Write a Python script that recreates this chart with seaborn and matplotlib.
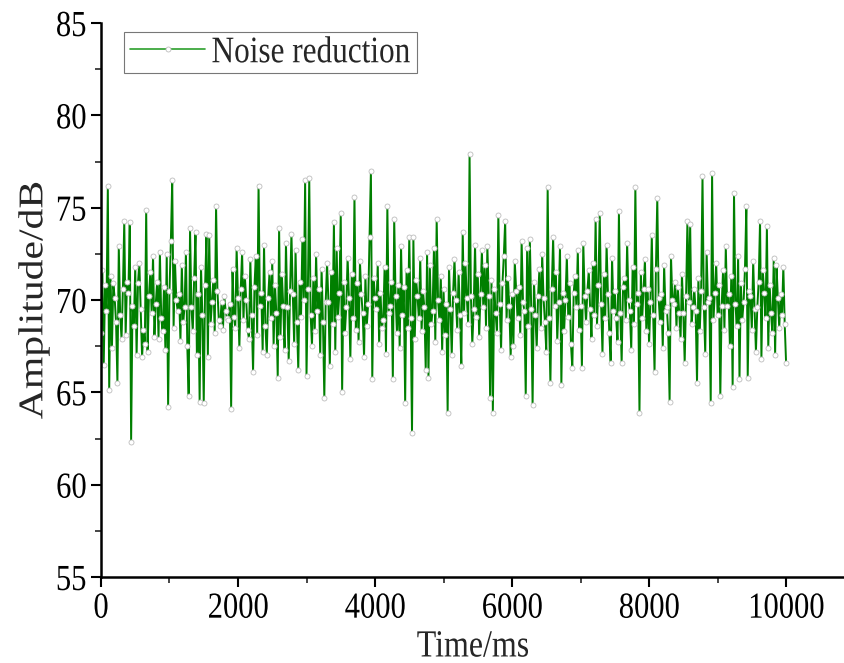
import numpy as np
import pandas as pd
import matplotlib
matplotlib.use("Agg")
import matplotlib.pyplot as plt
from matplotlib.ticker import MultipleLocator
from matplotlib.patheffects import AbstractPathEffect
from matplotlib.transforms import Affine2D
import seaborn as sns

# sampling step of the recorded signal (ms)
step_ms = 20

amplitude_db = [
    68.2, 71.6, 66.5, 70.8, 69.4, 76.2, 65.1, 71.3, 67.4, 70.9, 70.1, 68.8, 65.5, 72.9, 69.2, 67.9, 70.6, 74.3, 68.1, 71.0, 70.4, 74.2, 62.3, 69.7, 68.6, 71.8, 67.0, 70.9, 72.0, 69.5, 66.9,
    68.4, 67.6, 74.9, 67.2, 70.2, 71.5, 69.3, 72.4, 68.0, 69.8, 71.0, 67.9, 72.6, 69.0, 68.3, 70.7, 67.3, 72.5, 64.2, 70.5, 73.2, 76.5, 68.5, 72.1, 70.0, 69.4, 70.3, 67.8, 71.9, 68.8, 69.6,
    72.6, 67.5, 64.8, 73.9, 69.6, 68.3, 71.2, 73.7, 67.0, 70.3, 64.5, 71.8, 69.2, 64.4, 70.8, 73.6, 66.9, 73.5, 68.7, 69.9, 71.1, 68.2, 75.1, 70.5, 68.9, 68.6, 69.9, 68.4, 70.2, 69.4, 69.0,
    68.9, 69.8, 64.1, 71.7, 69.1, 68.5, 72.8, 70.1, 67.4, 70.6, 72.6, 68.9, 71.3, 70.0, 68.4, 67.9, 72.2, 69.2, 66.1, 70.7, 72.4, 68.1, 76.2, 69.7, 70.4, 67.2, 73.0, 68.6, 67.0, 70.1, 71.5,
    69.0, 72.1, 67.5, 70.8, 69.3, 65.8, 73.9, 68.0, 71.4, 69.7, 67.3, 73.1, 69.6, 66.7, 70.5, 73.6, 70.3, 67.6, 72.7, 68.8, 66.2, 71.0, 69.1, 73.3, 70.0, 76.5, 65.9, 70.6, 76.6, 69.2, 67.5,
    71.2, 68.3, 72.5, 69.4, 70.6, 67.0, 71.7, 68.8, 64.7, 69.9, 72.0, 69.9, 66.4, 71.5, 68.7, 74.2, 67.2, 72.8, 69.1, 70.4, 74.7, 65.0, 71.0, 68.2, 69.6, 72.3, 70.1, 66.8, 71.4, 69.0, 75.6,
    68.4, 70.9, 67.7, 72.1, 70.3, 69.3, 66.9, 71.3, 68.6, 69.8, 73.4, 77.0, 65.7, 71.2, 70.1, 69.5, 72.0, 67.6, 70.4, 68.5, 68.9, 71.8, 67.1, 75.1, 69.3, 69.7, 71.0, 65.7, 74.4, 70.2, 68.2,
    70.8, 67.4, 72.9, 69.2, 70.7, 64.4, 71.6, 68.5, 73.4, 69.0, 62.8, 73.4, 67.9, 71.1, 70.2, 69.0, 72.3, 68.3, 70.5, 69.6, 66.2, 72.6, 65.8, 71.9, 68.7, 69.4, 72.8, 67.7, 74.4, 70.0, 68.9,
    71.3, 67.2, 70.6, 68.1, 69.8, 63.9, 71.8, 69.5, 67.0, 70.4, 72.2, 70.0, 68.4, 71.5, 69.2, 66.4, 73.7, 69.3, 72.0, 70.1, 68.7, 77.9, 70.2, 67.6, 69.5, 73.0, 69.1, 71.4, 68.0, 70.3, 72.7,
    69.6, 71.9, 68.5, 72.9, 70.2, 64.7, 71.1, 63.9, 70.6, 69.3, 68.2, 74.6, 69.8, 67.3, 70.9, 72.4, 74.3, 68.9, 71.2, 69.7, 66.9, 70.3, 67.5, 72.1, 70.5, 69.0, 70.7, 68.1, 73.2, 69.9, 69.4,
    64.8, 72.8, 68.6, 73.3, 69.5, 64.3, 71.0, 69.2, 67.4, 70.2, 71.7, 68.5, 72.5, 70.1, 68.8, 67.2, 76.1, 69.0, 65.5, 70.6, 73.4, 69.7, 71.5, 67.8, 69.9, 72.9, 65.4, 70.4, 68.3, 70.0, 72.4,
    69.1, 70.9, 67.6, 66.3, 70.4, 71.3, 69.6, 72.7, 68.4, 69.7, 66.3, 73.1, 70.2, 68.8, 70.5, 71.6, 69.5, 67.9, 72.0, 69.2, 74.4, 68.6, 70.8, 74.7, 69.8, 67.1, 71.4, 69.0, 73.0, 70.3, 68.2,
    66.6, 72.3, 69.4, 70.5, 69.0, 67.7, 74.8, 69.3, 66.6, 70.7, 71.2, 68.9, 73.1, 70.0, 69.4, 67.3, 71.8, 68.7, 76.1, 69.8, 70.4, 63.9, 71.5, 69.0, 70.6, 72.2, 68.3, 70.6, 67.6, 69.9, 73.5,
    69.2, 66.1, 71.7, 75.5, 70.1, 68.8, 70.3, 67.4, 71.9, 69.4, 69.6, 68.2, 64.5, 72.4, 70.0, 69.8, 71.0, 68.5, 70.7, 69.3, 67.9, 71.4, 69.3, 66.6, 70.2, 74.3, 69.9, 74.1, 68.7, 69.6, 70.6,
    69.4, 65.5, 71.2, 68.3, 70.5, 76.7, 69.6, 67.1, 72.6, 69.9, 70.1, 64.4, 76.9, 68.9, 70.4, 72.0, 69.2, 70.8, 64.8, 69.7, 71.6, 68.4, 72.9, 69.7, 70.3, 67.5, 71.3, 65.3, 75.8, 69.8, 68.6,
    72.4, 65.7, 70.9, 68.9, 69.9, 71.7, 75.1, 65.8, 70.5, 70.2, 68.4, 72.1, 69.5, 67.2, 69.6, 71.0, 74.3, 66.8, 71.6, 70.4, 69.0, 74.0, 67.4, 70.8, 69.3, 68.2, 72.3, 67.0, 71.9, 70.1, 68.5,
    70.3, 69.2, 71.8, 68.7, 66.6,
]
time_ms = [i * step_ms for i in range(len(amplitude_db))]

x_ticks = [0, 2000, 4000, 6000, 8000, 10000]
y_ticks = [55, 60, 65, 70, 75, 80, 85]


class TallText(AbstractPathEffect):
    # the source figure has slightly tall lettering: stretch glyphs vertically
    def __init__(self, factor=1.2):
        super().__init__()
        self.factor = factor

    def draw_path(self, renderer, gc, tpath, affine, rgbFace=None):
        ext = tpath.get_extents(affine)
        cy = (ext.y0 + ext.y1) / 2
        stretch = Affine2D().translate(0, -cy).scale(1, self.factor).translate(0, cy)
        renderer.draw_path(gc, tpath, affine + stretch, rgbFace)


df = pd.DataFrame({"Time/ms": time_ms, "Amplitude/dB": amplitude_db})

sns.set_style("ticks")
plt.rcParams["font.family"] = ["Liberation Serif", "DejaVu Serif"]

fig = plt.figure(figsize=(8.45, 6.63), dpi=100)
ax = fig.add_axes([0.1195, 0.1297, 0.8805, 0.8356])

sns.lineplot(data=df, x="Time/ms", y="Amplitude/dB", ax=ax, color="#007f00",
             linewidth=1.4, marker="o", markersize=3.6, markerfacecolor="white",
             markeredgecolor="#bdbdbd", markeredgewidth=0.6,
             label="Noise reduction")

ax.set_xlim(0, 10860)
ax.set_ylim(55, 85)
ax.set_xticks(x_ticks)
ax.set_yticks(y_ticks)
ax.xaxis.set_minor_locator(MultipleLocator(1000))
ax.yaxis.set_minor_locator(MultipleLocator(2.5))
ax.tick_params(which="major", direction="out", length=7, width=1.5, labelsize=22, colors="black")
ax.tick_params(axis="x", which="major", pad=5)
ax.tick_params(which="minor", direction="out", length=4, width=1.2)
ax.set_xlabel("Time/ms", fontsize=23, labelpad=7)
ax.set_ylabel("Amplitude/dB", fontsize=25, labelpad=4)

sns.despine(ax=ax)
for side in ["left", "bottom"]:
    ax.spines[side].set_linewidth(1.8)
    ax.spines[side].set_color("black")

leg = ax.legend(loc="upper left", bbox_to_anchor=(0.031, 0.984), fontsize=22.5,
                frameon=True, fancybox=False, edgecolor="#555555",
                handlelength=2.4, handletextpad=0.2, borderpad=0.2,
                borderaxespad=0)
leg.get_frame().set_linewidth(0.8)
for h in leg.get_lines():
    h.set_linewidth(1.2)
    h.set_color("#2ca02c")

tall = [TallText(1.2)]
for tick in ax.xaxis.get_major_ticks() + ax.yaxis.get_major_ticks():
    tick.label1.set_path_effects(tall)
ax.xaxis.label.set_path_effects(tall)
ax.yaxis.label.set_path_effects(tall)
for t in leg.get_texts():
    t.set_path_effects(tall)

fig.savefig("out.png", dpi=100)
